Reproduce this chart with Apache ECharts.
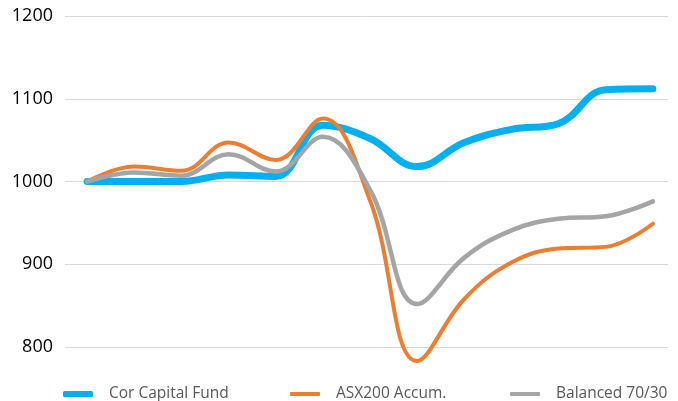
<!DOCTYPE html>
<html>
<head>
<meta charset="utf-8">
<script src="https://cdn.jsdelivr.net/npm/echarts@6/dist/echarts.min.js"></script>
<style>
html,body{margin:0;padding:0;background:#fff;}
#c{width:678px;height:401px;}
</style>
</head>
<body>
<div id="c"></div>
<script>
var periods = [0,1,2,3,4,5,6,7,8,9,10,11,12];
var seriesNames = ['Cor Capital Fund','ASX200 Accum.','Balanced 70/30'];
var corCapital = [1000,1000,1000,1008,1006,1068,1052,1018,1047,1063,1070,1111,1112];
var asx200 = [1000,1018,1013,1047,1026,1076,977,783,858,902,919,921,949];
var balanced = [1000,1011,1007,1033,1012,1054,990,852,908,941,955,958,976];
var yTicks = [800,900,1000,1100,1200];

function pairs(vals){ return periods.map(function(p,i){ return [p, vals[i]]; }); }

var chart = echarts.init(document.getElementById('c'));
var colors = ['#00b0f0','#ed7d31','#a5a5a5'];
var widths = [7,4,4.5];
var iconH = [6,4,4];
var datas = [corCapital, asx200, balanced];
var legendLeft = [58, 285, 505];

chart.setOption({
  animation:false,
  grid:{left:65,right:10,top:16,bottom:54},
  xAxis:{type:'value',min:-0.47,max:12.32,show:false},
  yAxis:{type:'value',min:yTicks[0],max:yTicks[yTicks.length-1],interval:100,
    axisLine:{show:false},axisTick:{show:false},
    axisLabel:{margin:12,fontSize:18,color:'#000000',fontFamily:'Open Sans',
      formatter:function(v){return String(v);}},
    splitLine:{lineStyle:{color:'#d9d9d9',width:1}}},
  legend: seriesNames.map(function(n,i){
    return {data:[n],left:legendLeft[i],top:381,itemWidth:30,itemHeight:iconH[i],icon:'roundRect',
      textStyle:{fontSize:15.5,color:'#595959',fontFamily:'Open Sans',padding:[0,0,0,11]}};
  }),
  series: seriesNames.map(function(n,i){
    return {name:n,type:'line',data:pairs(datas[i]),smooth:0.4,showSymbol:false,symbol:'none',clip:false,
      color:colors[i],lineStyle:{color:colors[i],width:widths[i],cap:'round'}};
  })
});
</script>
</body>
</html>
